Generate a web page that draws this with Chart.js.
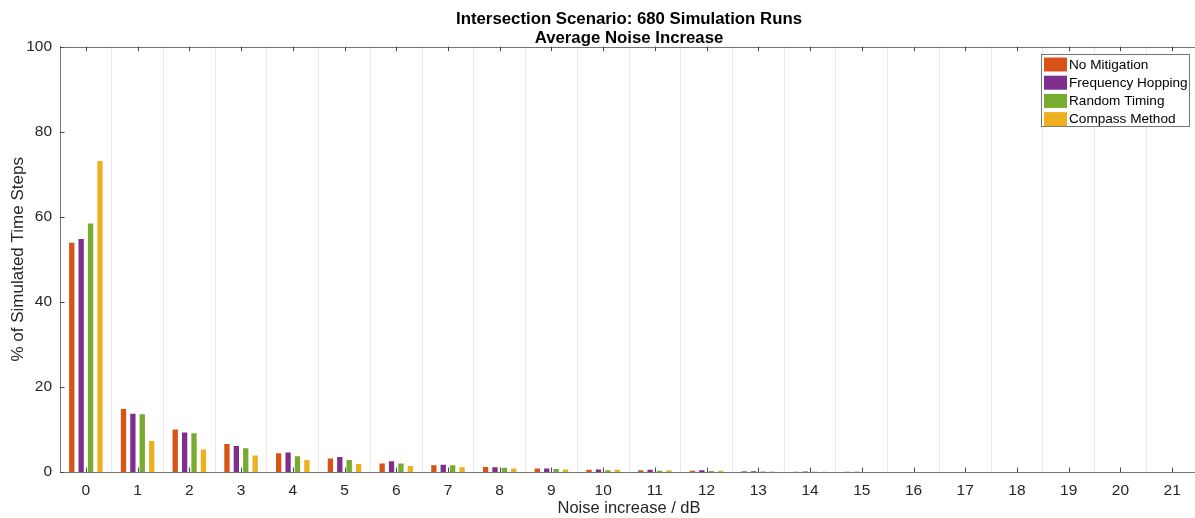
<!DOCTYPE html>
<html>
<head>
<meta charset="utf-8">
<script src="https://cdn.jsdelivr.net/npm/chart.js@4/dist/chart.umd.min.js"></script>
<style>
  html, body { margin: 0; padding: 0; background: #fff; overflow: hidden; }
  #wrap { width: 1198px; height: 518px; }
</style>
</head>
<body>
<div id="wrap"><canvas id="c" width="1198" height="518"></canvas></div>
<script>
// Noise increase bins (dB)
const categories = ['0','1','2','3','4','5','6','7','8','9','10','11','12','13','14','15','16','17','18','19','20','21'];

// Share of simulated time steps per bin (%)
const noMitigation     = [53.9, 14.8, 10.0, 6.6, 4.4, 3.2, 2.0, 1.6, 1.2, 0.85, 0.55, 0.4, 0.3, 0.15, 0.08, 0.03, 0, 0, 0, 0, 0, 0];
const frequencyHopping = [54.8, 13.7, 9.3, 6.1, 4.6, 3.5, 2.5, 1.7, 1.1, 0.8, 0.6, 0.55, 0.4, 0.2, 0.1, 0.04, 0, 0, 0, 0, 0, 0];
const randomTiming     = [58.4, 13.6, 9.1, 5.6, 3.7, 2.8, 2.0, 1.6, 1.0, 0.7, 0.4, 0.3, 0.25, 0.1, 0.05, 0.02, 0, 0, 0, 0, 0, 0];
const compassMethod    = [73.1, 7.3, 5.3, 3.9, 2.8, 1.9, 1.4, 1.1, 0.85, 0.6, 0.55, 0.4, 0.3, 0.12, 0.05, 0.02, 0, 0, 0, 0, 0, 0];

const seriesLabels = ['No Mitigation', 'Frequency Hopping', 'Random Timing', 'Compass Method'];
const seriesColors = ['#D95319', '#7E2F8E', '#77AC30', '#EDB120'];
const yTicks = [0, 20, 40, 60, 80, 100];

const FONT = 'Liberation Sans, Arial, Helvetica, sans-serif';
const AXIS_COLOR = '#767676';
const TEXT_COLOR = '#262626';

// Box outline with inward tick marks on bottom, top and left edges
const boxTicks = {
  id: 'boxTicks',
  afterDraw(chart) {
    const {ctx, chartArea: a, scales: {x, y}} = chart;
    ctx.save();
    ctx.strokeStyle = AXIS_COLOR;
    ctx.lineWidth = 1;
    ctx.beginPath();
    ctx.moveTo(a.left, Math.round(a.top) + 0.5);
    ctx.lineTo(a.right, Math.round(a.top) + 0.5);
    ctx.stroke();
    ctx.strokeStyle = '#4a4a4a';
    ctx.beginPath();
    x.ticks.forEach((t, i) => {
      const px = Math.round(x.getPixelForTick(i)) + 0.5;
      ctx.moveTo(px, a.bottom);
      ctx.lineTo(px, a.bottom - 4.5);
      ctx.moveTo(px, a.top);
      ctx.lineTo(px, a.top + 4.5);
    });
    y.ticks.forEach((t, i) => {
      const py = Math.round(y.getPixelForTick(i)) + 0.5;
      ctx.moveTo(a.left, py);
      ctx.lineTo(a.left + 4.5, py);
    });
    ctx.stroke();
    ctx.restore();
  }
};

// Legend box in the upper right corner of the plot
const innerLegend = {
  id: 'innerLegend',
  afterDraw(chart) {
    const {ctx} = chart;
    const sets = chart.data.datasets;
    const left = 1041.5, top = 54.5, w = 148, h = 72;
    ctx.save();
    ctx.fillStyle = '#fff';
    ctx.fillRect(left, top, w, h);
    ctx.strokeStyle = AXIS_COLOR;
    ctx.lineWidth = 1;
    ctx.strokeRect(left, top, w, h);
    ctx.font = '13.6px ' + FONT;
    ctx.textBaseline = 'middle';
    ctx.textAlign = 'left';
    sets.forEach((ds, i) => {
      const cy = 64.5 + i * 18.2;
      ctx.fillStyle = ds.backgroundColor;
      ctx.fillRect(1044, cy - 7, 23, 14);
      ctx.fillStyle = '#000';
      ctx.fillText(ds.label, 1069, cy + 0.5);
    });
    ctx.restore();
  }
};

const seriesValues = [noMitigation, frequencyHopping, randomTiming, compassMethod];

new Chart(document.getElementById('c'), {
  type: 'bar',
  data: {
    labels: categories,
    datasets: seriesValues.map((vals, i) => ({
      label: seriesLabels[i],
      data: vals,
      backgroundColor: seriesColors[i],
      borderWidth: 0,
      categoryPercentage: 0.727,
      barPercentage: 0.565
    }))
  },
  options: {
    responsive: false,
    animation: false,
    devicePixelRatio: 1,
    layout: { padding: { left: 0, right: 0, top: 0, bottom: 0 } },
    plugins: {
      legend: { display: false },
      tooltip: { enabled: false },
      title: {
        display: true,
        fullSize: false,
        text: ['Intersection Scenario: 680 Simulation Runs', 'Average Noise Increase'],
        color: '#000',
        font: { family: FONT, size: 16.8, weight: 'bold', lineHeight: 1.18 },
        padding: { top: 9, bottom: -2 }
      }
    },
    scales: {
      x: {
        offset: true,
        grid: { display: true, offset: true, color: '#e9e9e9', lineWidth: 1, drawTicks: false },
        border: { display: true, color: AXIS_COLOR, width: 1 },
        ticks: { color: TEXT_COLOR, font: { family: FONT, size: 15.5 }, padding: 9, maxRotation: 0, autoSkip: false },
        title: {
          display: true,
          text: 'Noise increase / dB',
          color: TEXT_COLOR,
          font: { family: FONT, size: 16.5 },
          padding: { top: 0, bottom: 0 }
        },
        afterFit(scale) { scale.height = 46; }
      },
      y: {
        min: 0,
        max: 100,
        afterBuildTicks(scale) { scale.ticks = yTicks.map(v => ({ value: v })); },
        grid: { display: false, drawTicks: false },
        border: { display: true, color: AXIS_COLOR, width: 1 },
        ticks: { color: TEXT_COLOR, font: { family: FONT, size: 15.5 }, padding: 8 },
        title: {
          display: true,
          text: '% of Simulated Time Steps',
          color: TEXT_COLOR,
          font: { family: FONT, size: 17 },
          padding: { top: 8, bottom: 0 }
        },
        afterFit(scale) { scale.width = 60; }
      }
    }
  },
  plugins: [boxTicks, innerLegend]
});
</script>
</body>
</html>
